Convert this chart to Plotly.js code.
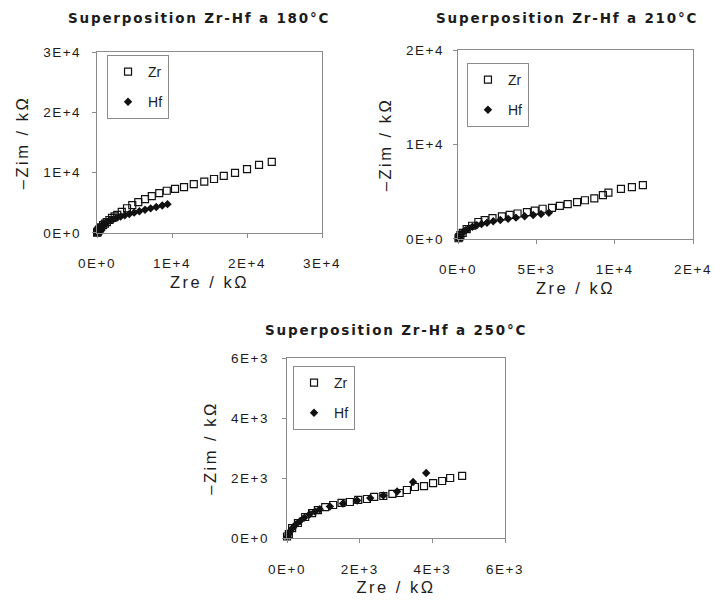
<!DOCTYPE html>
<html>
<head>
<meta charset="utf-8">
<script src="https://cdn.plot.ly/plotly-3.0.1.min.js"></script>
<style>
  html, body { margin: 0; padding: 0; background: #fff; }
  #chart { width: 714px; height: 602px; }
  .annotation-text { letter-spacing: 1.8px; }
  .xtick text, .ytick text, .x2tick text, .y2tick text, .x3tick text, .y3tick text { letter-spacing: 1.5px; }
  .g-xtitle text, .g-ytitle text, .g-x2title text, .g-y2title text, .g-x3title text, .g-y3title text { letter-spacing: 2.5px; }
</style>
</head>
<body>
<div id="chart"></div>
<script>
// ---- Data ----
const titles = ["Superposition Zr-Hf a 180°C", "Superposition Zr-Hf a 210°C", "Superposition Zr-Hf a 250°C"];
const seriesNames = ["Zr", "Hf"];
const xTitle = "Zre / kΩ";
const yTitle = "–Zim / kΩ";

// 180 °C
const zr180_x = [20, 50, 100, 180, 280, 400, 550, 800, 1050, 1300, 1650, 2000, 2350, 2700, 3300, 4000, 4700, 5500, 6400, 7300, 8300, 9300, 10400, 11600, 12900, 14300, 15600, 16900, 18400, 20000, 21600, 23300];
const zr180_y = [50, 120, 220, 380, 550, 750, 950, 1300, 1550, 1800, 2150, 2500, 2750, 3000, 3500, 4100, 4600, 5100, 5600, 6100, 6600, 7000, 7300, 7600, 8100, 8500, 8950, 9450, 9950, 10600, 11300, 11800];
const hf180_x = [20, 50, 100, 170, 260, 380, 520, 700, 900, 1150, 1450, 1800, 2200, 2650, 3150, 3700, 4300, 4950, 5650, 6400, 7150, 7900, 8700, 9400];
const hf180_y = [70, 180, 320, 480, 650, 830, 1030, 1240, 1440, 1650, 1870, 2100, 2320, 2520, 2720, 2930, 3140, 3370, 3600, 3840, 4080, 4320, 4560, 4780];

// 210 °C
const zr210_x = [30, 80, 150, 300, 550, 900, 1300, 1700, 2200, 2800, 3300, 3800, 4400, 4900, 5400, 6000, 6500, 7000, 7600, 8100, 8700, 9250, 9600, 10400, 11100, 11800];
const zr210_y = [80, 200, 400, 650, 1050, 1400, 1800, 2000, 2200, 2400, 2550, 2700, 2850, 3000, 3200, 3300, 3500, 3700, 3900, 4100, 4300, 4650, 4900, 5300, 5500, 5700];
const hf210_x = [20, 60, 120, 200, 320, 480, 680, 920, 1200, 1500, 1850, 2250, 2700, 3200, 3700, 4250, 4800, 5300, 5800];
const hf210_y = [60, 180, 340, 520, 720, 920, 1110, 1290, 1450, 1590, 1730, 1870, 2000, 2130, 2260, 2400, 2530, 2650, 2780];

// 250 °C
const zr250_x = [0, 50, 140, 300, 500, 690, 850, 1050, 1270, 1500, 1730, 1960, 2200, 2400, 2650, 2900, 3100, 3300, 3520, 3770, 4020, 4270, 4490, 4820];
const zr250_y = [50, 130, 330, 500, 700, 830, 930, 1030, 1100, 1170, 1200, 1270, 1300, 1370, 1400, 1470, 1500, 1600, 1700, 1730, 1830, 1900, 2000, 2070];
const hf250_x = [10, 40, 90, 160, 250, 360, 480, 620, 770, 900, 1180, 1540, 1930, 2290, 2650, 3030, 3470, 3830];
const hf250_y = [40, 120, 230, 340, 460, 570, 680, 790, 880, 960, 1050, 1150, 1250, 1330, 1420, 1550, 1870, 2170];

// Tick labels
const ticks180_vals = [0, 10000, 20000, 30000];
const ticks180_text = ["0E+0", "1E+4", "2E+4", "3E+4"];
const ticks210x_vals = [0, 5000, 10000, 15000];
const ticks210x_text = ["0E+0", "5E+3", "1E+4", "2E+4"];
const ticks210y_vals = [0, 10000, 20000];
const ticks210y_text = ["0E+0", "1E+4", "2E+4"];
const ticks250_vals = [0, 2000, 4000, 6000];
const ticks250_text = ["0E+0", "2E+3", "4E+3", "6E+3"];

// ---- Styling ----
const FONT = "Liberation Sans, Arial, sans-serif";
const TFONT = "DejaVu Sans, Liberation Sans, Arial, sans-serif";
const TXT = "#1c1c1c";
const AX = "#8c8c8c";

function zrTrace(x, y, xa, ya, lg) {
  return { type: "scatter", mode: "markers", name: seriesNames[0], x: x, y: y, xaxis: xa, yaxis: ya,
    legend: lg, legendgroup: lg + "zr", cliponaxis: false,
    marker: { symbol: "square-open", size: 7, color: "#111", line: { width: 1.2, color: "#111" } } };
}
function hfTrace(x, y, xa, ya, lg) {
  return { type: "scatter", mode: "markers", name: seriesNames[1], x: x, y: y, xaxis: xa, yaxis: ya,
    legend: lg, legendgroup: lg + "hf", cliponaxis: false,
    marker: { symbol: "diamond", size: 6.5, color: "#111", line: { width: 0 } } };
}

const data = [
  zrTrace(zr180_x, zr180_y, "x", "y", "legend"),
  hfTrace(hf180_x, hf180_y, "x", "y", "legend"),
  zrTrace(zr210_x, zr210_y, "x2", "y2", "legend2"),
  hfTrace(hf210_x, hf210_y, "x2", "y2", "legend2"),
  zrTrace(zr250_x, zr250_y, "x3", "y3", "legend3"),
  hfTrace(hf250_x, hf250_y, "x3", "y3", "legend3")
];

function xAxis(domain, range, vals, text, anchor, standoff) {
  return { domain: domain, range: range, anchor: anchor, tickmode: "array", tickvals: vals, ticktext: text,
    showgrid: false, zeroline: false, showline: true, mirror: true, linecolor: AX, linewidth: 1.3,
    ticks: "outside", ticklen: 4, tickcolor: AX, ticklabelstandoff: 14, automargin: false,
    tickfont: { family: FONT, size: 13.5, color: TXT },
    title: { text: xTitle, font: { family: FONT, size: 16.5, color: TXT }, standoff: standoff } };
}
function yAxis(domain, range, vals, text, anchor, standoff, lstand) {
  return { domain: domain, range: range, anchor: anchor, tickmode: "array", tickvals: vals, ticktext: text,
    showgrid: false, zeroline: false, showline: true, mirror: true, linecolor: AX, linewidth: 1.3,
    ticks: "outside", ticklen: 4, tickcolor: AX, ticklabelstandoff: lstand, automargin: false,
    tickfont: { family: FONT, size: 13.5, color: TXT },
    title: { text: yTitle, font: { family: FONT, size: 16.5, color: TXT }, standoff: standoff } };
}

function legendBox(x, y) {
  return { x: x, y: y, xanchor: "left", yanchor: "top", bgcolor: "#fff", bordercolor: AX, borderwidth: 1,
    font: { family: FONT, size: 14, color: TXT }, tracegroupgap: 9, itemwidth: 30 };
}

function titleAnn(text, x, y) {
  return { text: "<b>" + text + "</b>", xref: "paper", yref: "paper", x: x, y: y, xanchor: "center", yanchor: "middle",
    showarrow: false, font: { family: TFONT, size: 13.5, color: TXT } };
}

const layout = {
  width: 714, height: 602,
  margin: { l: 0, r: 0, t: 0, b: 0 },
  paper_bgcolor: "#fff", plot_bgcolor: "#fff",
  showlegend: true,
  xaxis: xAxis([0.1359, 0.4510], [0, 30000], ticks180_vals, ticks180_text, "y", 6),
  yaxis: yAxis([0.6130, 0.9136], [0, 30000], ticks180_vals, ticks180_text, "x", 10, 8),
  xaxis2: xAxis([0.6415, 0.9706], [0, 15000], ticks210x_vals, ticks210x_text, "y2", 6),
  yaxis2: yAxis([0.6030, 0.9169], [0, 20000], ticks210y_vals, ticks210y_text, "x2", 10, 6),
  xaxis3: xAxis([0.4020, 0.7073], [0, 6000], ticks250_vals, ticks250_text, "y3", 6),
  yaxis3: yAxis([0.1063, 0.4053], [0, 6000], ticks250_vals, ticks250_text, "x3", 10, 10),
  legend: legendBox(0.1499, 0.9086),
  legend2: legendBox(0.654, 0.8953),
  legend3: legendBox(0.4104, 0.392),
  annotations: [
    titleAnn(titles[0], 0.2787, 0.970),
    titleAnn(titles[1], 0.794, 0.970),
    titleAnn(titles[2], 0.5553, 0.4518)
  ]
};

Plotly.newPlot("chart", data, layout, { staticPlot: true, displayModeBar: false });
</script>
</body>
</html>
